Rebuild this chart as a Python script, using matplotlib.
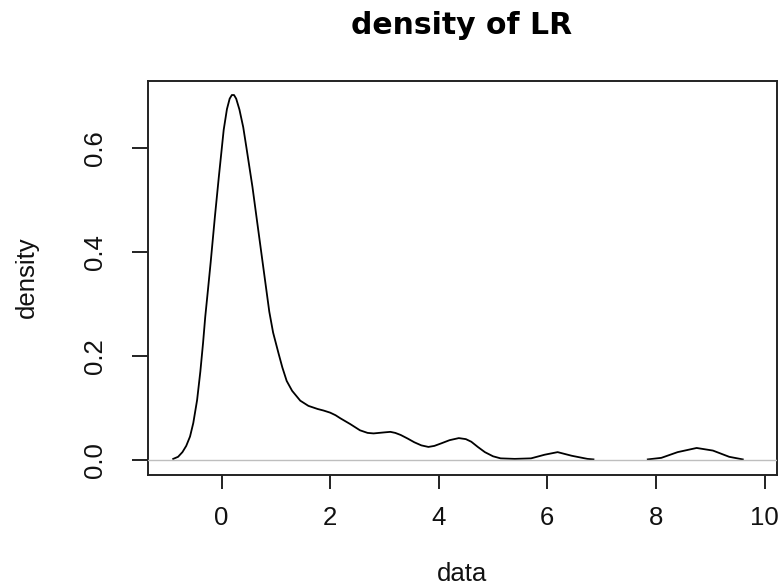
import numpy as np
import matplotlib
matplotlib.use("Agg")
import matplotlib.pyplot as plt

# density curve (x, density)
xs = [-0.89, -0.80, -0.72, -0.65, -0.58, -0.52, -0.45, -0.39, -0.34, -0.30,
      -0.25, -0.20, -0.12, -0.05, 0.04, 0.10, 0.15, 0.19, 0.23, 0.27,
      0.33, 0.40, 0.46, 0.57, 0.66, 0.77, 0.88, 0.95, 1.05, 1.12,
      1.20, 1.30, 1.45, 1.60, 1.77, 1.88, 2.00, 2.10, 2.19, 2.37,
      2.55, 2.69, 2.80, 2.90, 3.00, 3.11, 3.20, 3.30, 3.43, 3.55,
      3.68, 3.81, 3.92, 4.05, 4.20, 4.37, 4.50, 4.60, 4.72, 4.85,
      5.00, 5.14, 5.40, 5.70, 5.95, 6.19, 6.45, 6.74, 6.85, np.nan,
      7.85, 8.10, 8.40, 8.75, 9.05, 9.35, 9.60]
ys = [0.002, 0.006, 0.015, 0.027, 0.045, 0.071, 0.115, 0.170, 0.225, 0.275,
      0.327, 0.380, 0.470, 0.544, 0.635, 0.675, 0.695, 0.702, 0.702, 0.695,
      0.674, 0.640, 0.600, 0.525, 0.455, 0.370, 0.285, 0.245, 0.205, 0.178,
      0.152, 0.133, 0.114, 0.104, 0.098, 0.095, 0.091, 0.086, 0.080, 0.069,
      0.057, 0.052, 0.051, 0.052, 0.053, 0.054, 0.052, 0.048, 0.041, 0.034,
      0.028, 0.025, 0.027, 0.032, 0.038, 0.042, 0.040, 0.035, 0.025, 0.015,
      0.007, 0.003, 0.002, 0.003, 0.010, 0.015, 0.008, 0.002, 0.001, np.nan,
      0.001, 0.004, 0.015, 0.023, 0.018, 0.006, 0.001]

x_ticks = [0, 2, 4, 6, 8, 10]
y_ticks = [0.0, 0.2, 0.4, 0.6]
y_tick_labels = ["0.0", "0.2", "0.4", "0.6"]

W, H = 779, 586
fig = plt.figure(figsize=(W / 100, H / 100), dpi=100)
ax = fig.add_axes([148 / W, 1 - 475 / H, 629 / W, 394 / H])

font = "Liberation Sans"
ax.plot(xs, ys, color="black", lw=1.3, zorder=2)
ax.axhline(0, color="#bebebe", lw=1.0, zorder=3)

ax.set_xlim(-1.354, 10.23)
ax.set_ylim(-0.029, 0.729)
ax.set_xticks(x_ticks)
ax.set_xticklabels([str(t) for t in x_ticks])
ax.set_yticks(y_ticks)
ax.set_yticklabels(y_tick_labels, rotation=90, va="center")

for s in ax.spines.values():
    s.set_linewidth(1.4)
    s.set_color("#222222")
ax.tick_params(axis="x", length=10, width=1.4, pad=12, labelsize=18.5, colors="#222222")
ax.tick_params(axis="y", length=11.5, width=1.4, pad=18, labelsize=18.5, colors="#222222")
for lab in ax.get_xticklabels() + ax.get_yticklabels():
    lab.set_fontfamily(font)
    lab.set_color("#111111")

fig.text(462 / W, 1 - 34 / H, "density of LR", ha="center", va="baseline",
         fontsize=21.5, fontweight="bold", family="DejaVu Sans")
fig.text(462 / W, 1 - 581 / H, "data", ha="center", va="baseline",
         fontsize=18.5, family=font, color="#111111")
fig.text(27 / W, 1 - 277 / H, "density", ha="center", va="center",
         rotation=90, fontsize=18.5, family=font, color="#111111")

fig.savefig("out.png", dpi=100)
